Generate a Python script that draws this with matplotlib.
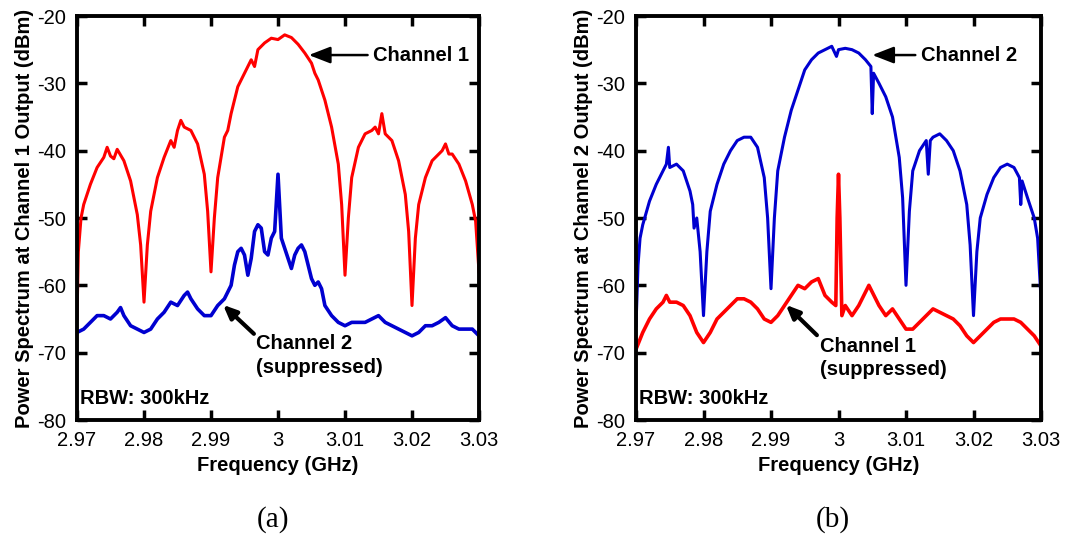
import matplotlib
matplotlib.use('Agg')
import matplotlib.pyplot as plt

plt.rcParams['font.family'] = ['Liberation Sans', 'DejaVu Sans']
plt.rcParams['axes.unicode_minus'] = False

# ---- panel (a): output of channel 1 ----
freq_a_ch1 = [2.970, 2.9702, 2.9706, 2.971, 2.972, 2.973, 2.974, 2.9745, 2.975, 2.9755,
              2.976, 2.977, 2.978, 2.979, 2.9795, 2.980, 2.9805, 2.981, 2.982, 2.983,
              2.984, 2.9845, 2.985, 2.9855, 2.986, 2.987, 2.988, 2.989, 2.9895, 2.990,
              2.9905, 2.991, 2.992, 2.9925, 2.993, 2.994, 2.995, 2.996, 2.9965, 2.997,
              2.998, 2.999, 3.000, 3.001, 3.002, 3.003, 3.004, 3.005, 3.0055, 3.006,
              3.007, 3.008, 3.009, 3.0095, 3.010, 3.0105, 3.011, 3.012, 3.013, 3.014,
              3.0145, 3.015, 3.0155, 3.016, 3.017, 3.018, 3.019, 3.0195, 3.020, 3.0205,
              3.021, 3.022, 3.023, 3.024, 3.0245, 3.025, 3.0255, 3.026, 3.027, 3.028,
              3.029, 3.0295, 3.030]
pwr_a_ch1 = [-65, -55, -50, -48, -45, -42.5, -41, -39.5, -40.8, -41.2,
             -39.8, -41.5, -44.5, -49.5, -54, -62.5, -54, -49, -44, -41,
             -38.5, -39.5, -37, -35.5, -36.5, -37, -39, -43.5, -49, -58,
             -50, -44, -38, -37, -34.5, -30.5, -28.5, -26.5, -27.5, -25,
             -24, -23.3, -23.5, -22.8, -23.2, -24.2, -25.5, -27, -28.5, -29.5,
             -32.5, -36.5, -42, -48, -58.5, -50, -44, -39.5, -37.5, -37,
             -36.5, -37.5, -34.5, -37.5, -38.5, -41.5, -46.5, -52, -63, -53,
             -48, -44, -41.5, -40.5, -40, -39, -40.5, -40.5, -42, -44.5,
             -48, -50.5, -58]

freq_a_ch2 = [2.970, 2.971, 2.972, 2.973, 2.974, 2.975, 2.976, 2.9765, 2.977, 2.978,
              2.979, 2.980, 2.981, 2.982, 2.983, 2.984, 2.985, 2.986, 2.9865, 2.987,
              2.988, 2.989, 2.990, 2.991, 2.992, 2.993, 2.9935, 2.994, 2.9945, 2.995,
              2.9955, 2.996, 2.9965, 2.997, 2.9975, 2.998, 2.9985, 2.999, 2.9995, 3.000,
              3.0005, 3.001, 3.0015, 3.002, 3.0025, 3.003, 3.0035, 3.004, 3.0045, 3.005,
              3.0055, 3.006, 3.0065, 3.007, 3.008, 3.009, 3.010, 3.011, 3.012, 3.013,
              3.014, 3.015, 3.016, 3.017, 3.018, 3.019, 3.020, 3.021, 3.022, 3.023,
              3.024, 3.025, 3.026, 3.027, 3.028, 3.029, 3.030]
pwr_a_ch2 = [-67, -66.5, -65.5, -64.5, -64.5, -65, -64, -63.3, -64.5, -66,
             -66.5, -67, -66.5, -65, -64, -62.5, -63, -61.5, -61, -62,
             -63.5, -64.5, -64.5, -63, -62, -60, -57, -55, -54.5, -55.5,
             -58.5, -56, -52, -51, -51.5, -55, -55.5, -53, -52, -43.5,
             -53, -54.5, -56, -57.5, -55.5, -54.5, -54, -55, -57, -59,
             -60, -59.5, -60.5, -63, -64.5, -65.5, -66, -65.5, -65.5, -65.5,
             -65, -64.5, -65.5, -66, -66.5, -67, -67.5, -67, -66, -66,
             -65.5, -64.8, -66, -66.5, -66.5, -66.5, -67.5]

# ---- panel (b): output of channel 2 ----
freq_b_ch2 = [2.970, 2.9703, 2.9706, 2.971, 2.972, 2.973, 2.974, 2.9745, 2.9748, 2.975,
              2.976, 2.977, 2.978, 2.9784, 2.9786, 2.979, 2.9795, 2.980, 2.9805, 2.981,
              2.982, 2.983, 2.984, 2.985, 2.986, 2.987, 2.988, 2.989, 2.9895, 2.990,
              2.9905, 2.991, 2.992, 2.993, 2.994, 2.995, 2.996, 2.997, 2.998, 2.999,
              2.9997, 3.000, 3.001, 3.002, 3.003, 3.004, 3.0048, 3.005, 3.0052, 3.006,
              3.007, 3.008, 3.009, 3.0095, 3.010, 3.0105, 3.011, 3.012, 3.013, 3.0133,
              3.0136, 3.014, 3.015, 3.016, 3.017, 3.018, 3.019, 3.0195, 3.020, 3.0205,
              3.021, 3.022, 3.023, 3.024, 3.025, 3.026, 3.0268, 3.027, 3.0272, 3.028,
              3.029, 3.0295, 3.030]
pwr_b_ch2 = [-66, -57, -53, -51, -47.5, -45, -43, -42, -39.5, -42.5,
             -42, -43, -46, -48, -51.5, -50, -55, -64.5, -55, -49,
             -45, -42, -40, -38.5, -38, -38, -39.5, -44, -50, -60.5,
             -50, -43, -38, -34, -31, -28, -26.5, -25.5, -25, -24.5,
             -26, -25, -24.8, -25, -25.5, -26.5, -27.5, -34.5, -28.5, -30,
             -32, -35, -41, -47, -60, -49, -43, -40, -38.5, -43.5,
             -38.5, -38, -37.5, -38.5, -40, -43, -48, -54, -64.5, -55,
             -50, -46.5, -44, -42.5, -42, -42.5, -44, -48, -44.5, -47,
             -50, -53, -62]

freq_b_ch1 = [2.970, 2.971, 2.972, 2.973, 2.974, 2.9745, 2.975, 2.976, 2.977, 2.978,
              2.979, 2.980, 2.981, 2.982, 2.983, 2.984, 2.985, 2.986, 2.987, 2.988,
              2.989, 2.990, 2.991, 2.992, 2.993, 2.994, 2.995, 2.996, 2.997, 2.998,
              2.999, 2.9996, 2.9998, 3.000, 3.0002, 3.0005, 3.001, 3.002, 3.003, 3.004,
              3.0045, 3.005, 3.006, 3.007, 3.008, 3.009, 3.010, 3.011, 3.012, 3.013,
              3.014, 3.015, 3.016, 3.017, 3.018, 3.019, 3.020, 3.021, 3.022, 3.023,
              3.024, 3.025, 3.026, 3.027, 3.028, 3.029, 3.030]
pwr_b_ch1 = [-69.5, -67, -65, -63.5, -62.5, -61.5, -62.5, -62.5, -63, -64.5,
             -67, -68.5, -67, -65, -64, -63, -62, -62, -62.5, -63.5,
             -65, -65.5, -64.5, -63, -61.5, -60, -60.5, -59.5, -59, -61.5,
             -62.5, -63, -50, -43.5, -50, -64.5, -63, -64.5, -63, -61,
             -60, -61, -63, -64.5, -63.5, -65, -66.5, -66.5, -65.5, -64.5,
             -63.5, -64, -64.5, -65, -66, -67.5, -68.5, -67.5, -66.5, -65.5,
             -65, -65, -65, -65.5, -66.5, -67.5, -69]

x_ticks = [2.97, 2.98, 2.99, 3.00, 3.01, 3.02, 3.03]
x_tick_labels = ['2.97', '2.98', '2.99', '3', '3.01', '3.02', '3.03']
y_ticks = [-80, -70, -60, -50, -40, -30, -20]

red = '#ff0000'
blue = '#0000d0'

fig = plt.figure(figsize=(10.8, 5.38), dpi=100)
ax_a = fig.add_axes([77 / 1080, 1 - 420 / 538, 402 / 1080, 404 / 538])
ax_b = fig.add_axes([636 / 1080, 1 - 420 / 538, 405 / 1080, 404 / 538])


def style_axes(ax, ylabel):
    ax.set_xlim(2.97, 3.03)
    ax.set_ylim(-80, -20)
    ax.set_xticks(x_ticks)
    ax.set_xticklabels(x_tick_labels)
    ax.set_yticks(y_ticks)
    ax.tick_params(direction='in', length=7, width=2.5, labelsize=14.5, pad=8,
                   top=True, right=True)
    for sp in ax.spines.values():
        sp.set_linewidth(2.8)
    ax.set_xlabel('Frequency (GHz)', fontsize=14.5, fontweight='bold', labelpad=4)
    ax.set_ylabel(ylabel, fontsize=14.5, fontweight='bold', labelpad=2)
    ax.text(2.9705, -76.8, 'RBW: 300kHz', fontsize=14.5, fontweight='bold',
            va='center', ha='left')


# (a)
ax_a.plot(freq_a_ch1, pwr_a_ch1, color=red, lw=2.2)
ax_a.plot(freq_a_ch2, pwr_a_ch2, color=blue, lw=2.6)
style_axes(ax_a, 'Power Spectrum at Channel 1 Output (dBm)')
ax_a.annotate('Channel 1', xy=(3.0046, -25.8), xytext=(3.0142, -25.8),
              fontsize=14.5, fontweight='bold', va='center', ha='left',
              arrowprops=dict(arrowstyle='-|>,head_width=0.35,head_length=0.9',
                              color='black', lw=1.8, shrinkA=2, shrinkB=0))
ax_a.annotate('', xy=(2.9918, -62.9), xytext=(2.9964, -67.2),
              arrowprops=dict(arrowstyle='-|>,head_width=0.35,head_length=0.8',
                              color='black', lw=3, shrinkA=0, shrinkB=0))
ax_a.text(2.9967, -70.4, 'Channel 2\n(suppressed)', fontsize=14.5,
          fontweight='bold', va='center', ha='left', linespacing=1.3)

# (b)
ax_b.plot(freq_b_ch2, pwr_b_ch2, color=blue, lw=2.2)
ax_b.plot(freq_b_ch1, pwr_b_ch1, color=red, lw=2.6)
style_axes(ax_b, 'Power Spectrum at Channel 2 Output (dBm)')
ax_b.annotate('Channel 2', xy=(3.0050, -25.8), xytext=(3.0122, -25.8),
              fontsize=14.5, fontweight='bold', va='center', ha='left',
              arrowprops=dict(arrowstyle='-|>,head_width=0.35,head_length=0.9',
                              color='black', lw=1.8, shrinkA=2, shrinkB=0))
ax_b.annotate('', xy=(2.9922, -62.9), xytext=(2.9968, -67.4),
              arrowprops=dict(arrowstyle='-|>,head_width=0.35,head_length=0.8',
                              color='black', lw=3, shrinkA=0, shrinkB=0))
ax_b.text(2.9973, -70.8, 'Channel 1\n(suppressed)', fontsize=14.5,
          fontweight='bold', va='center', ha='left', linespacing=1.3)

fig.text(273 / 1080, 1 - 520 / 538, '(a)', fontsize=21, ha='center', va='center',
         family='Liberation Serif')
fig.text(833 / 1080, 1 - 520 / 538, '(b)', fontsize=21, ha='center', va='center',
         family='Liberation Serif')

fig.savefig('out.png', dpi=100)
